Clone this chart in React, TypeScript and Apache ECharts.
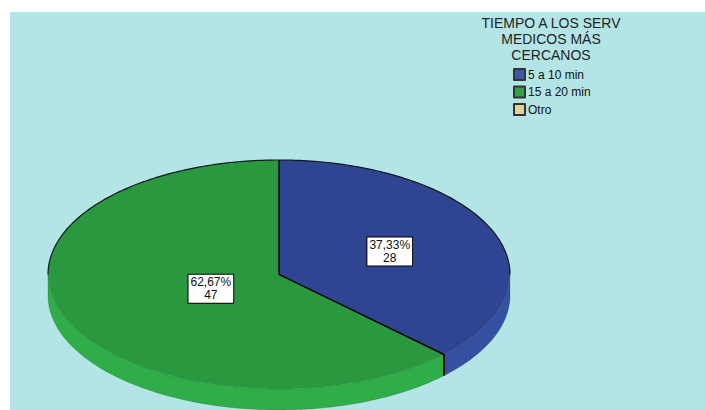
import React, { useEffect, useRef } from "react";
import * as echarts from "echarts";

const categories = ["5 a 10 min", "15 a 20 min", "Otro"];
const counts = [28, 47, 0];
const legendTitle = "TIEMPO A LOS SERV\nMEDICOS MÁS\nCERCANOS";

const topColors = ["#2f4592", "#2a983e", "#d8c890"];
const sideColors = ["#3550a1", "#2fad49", "#e2d29e"];
const legendColors = ["#3d57ad", "#2ea347", "#e2d29e"];
const labelFactors = [0.52, 0.32, 0.5];

const FONT = '"Liberation Sans", Arial, sans-serif';
// geometry (chart coords)
const CX = 269;
const CY = 262.5;
const RX = 231;
const RY = 114.5;
const H = 21;

const total = counts.reduce((a, b) => a + b, 0);
const starts: number[] = [];
{
  let acc = 0;
  counts.forEach((c) => {
    starts.push(acc);
    acc += c;
  });
}
const angOf = (v: number) => (v / total) * Math.PI * 2;

function pt(t: number, dy: number) {
  return [CX + RX * Math.sin(t), CY + dy - RY * Math.cos(t)];
}
function arcPts(a1: number, a2: number, dy: number) {
  const n = Math.max(2, Math.ceil(Math.abs(a2 - a1) / (Math.PI / 180)));
  const pts: number[][] = [];
  for (let i = 0; i <= n; i++) pts.push(pt(a1 + ((a2 - a1) * i) / n, dy));
  return pts;
}
function intersect(a1: number, a2: number, b1: number, b2: number) {
  const s = Math.max(a1, b1);
  const e = Math.min(a2, b2);
  return e > s ? [s, e] : null;
}

export default function App() {
  const ref = useRef<HTMLDivElement>(null);
  useEffect(() => {
    if (!ref.current) return;
    const chart = echarts.init(ref.current, null, { renderer: "svg" });

    const sideRender = (params: any, api: any) => {
      const i = params.dataIndex;
      const v = api.value(0);
      if (!v) return { type: "group", children: [] };
      const a1 = angOf(starts[i]);
      const a2 = a1 + angOf(v);
      const vis = intersect(a1, a2, Math.PI / 2, (3 * Math.PI) / 2);
      if (!vis) return { type: "group", children: [] };
      const pts = arcPts(vis[0], vis[1], 0).concat(arcPts(vis[0], vis[1], H).reverse());
      return {
        type: "polygon",
        shape: { points: pts },
        style: { fill: sideColors[i], stroke: "rgba(0,0,0,0.25)", lineWidth: 0.6 },
      };
    };

    const topRender = (params: any, api: any) => {
      const i = params.dataIndex;
      const v = api.value(0);
      if (!v) return { type: "group", children: [] };
      const a1 = angOf(starts[i]);
      const a2 = a1 + angOf(v);
      const children: any[] = [];
      children.push({
        type: "polygon",
        shape: { points: [[CX, CY]].concat(arcPts(a1, a2, 0)) },
        style: { fill: topColors[i] },
      });
      // back outline
      [[-Math.PI / 2, Math.PI / 2], [(3 * Math.PI) / 2, (5 * Math.PI) / 2]].forEach(([b1, b2]) => {
        const r = intersect(a1, a2, b1, b2);
        if (r) {
          children.push({
            type: "polyline",
            shape: { points: arcPts(r[0], r[1], 0) },
            style: { stroke: "#101820", lineWidth: 1.2, fill: "none" },
          });
        }
      });
      // radius lines and vertical front edges
      [a1, a2].forEach((a) => {
        const p = pt(a, 0);
        children.push({
          type: "line",
          shape: { x1: CX, y1: CY, x2: p[0], y2: p[1] },
          style: { stroke: "#000", lineWidth: 1.3 },
        });
        if (Math.cos(a) < 0) {
          children.push({
            type: "line",
            shape: { x1: p[0], y1: p[1], x2: p[0], y2: p[1] + H },
            style: { stroke: "#000", lineWidth: 1.3 },
          });
        }
      });
      const mid = (a1 + a2) / 2;
      const f = labelFactors[i];
      const pct = ((v / total) * 100).toFixed(2).replace(".", ",") + "%";
      children.push({
        type: "text",
        x: CX + RX * Math.sin(mid) * f,
        y: CY - RY * Math.cos(mid) * f,
        z2: 10,
        style: {
          text: pct + "\n" + v,
          fill: "#111",
          font: "12px " + FONT,
          align: "center",
          verticalAlign: "middle",
          lineHeight: 13,
          backgroundColor: "#fff",
          borderColor: "#000",
          borderWidth: 1,
          padding: [1, 2, 1, 2],
        },
      });
      return { type: "group", children };
    };

    const data = counts.map((c, i) => ({ name: categories[i], value: c }));

    chart.setOption({
      animation: false,
      backgroundColor: "#b4e5e6",
      graphic: [
        {
          type: "text",
          x: 541,
          y: 3,
          style: {
            text: legendTitle,
            font: "14px " + FONT,
            lineHeight: 16,
            align: "center",
            verticalAlign: "top",
            fill: "#222",
          },
        },
      ],
      legend: {
        orient: "vertical",
        left: 503,
        top: 56,
        itemWidth: 11,
        itemHeight: 11,
        itemGap: 4.5,
        icon: "rect",
        padding: 0,
        selectedMode: false,
        textStyle: { fontSize: 12, fontFamily: FONT, color: "#111", padding: [0, 0, 0, -2] },
        data: categories,
      },
      series: [
        {
          type: "pie",
          name: "legend",
          radius: [0, 0],
          center: [-200, -200],
          silent: true,
          label: { show: false },
          labelLine: { show: false },
          data: categories.map((n, i) => ({
            name: n,
            value: 1,
            itemStyle: { color: legendColors[i], borderColor: "#333", borderWidth: 1 },
          })),
        },
        {
          type: "custom",
          name: "sides",
          coordinateSystem: "none",
          z: 2,
          silent: true,
          renderItem: sideRender,
          data,
        },
        {
          type: "custom",
          name: "tops",
          coordinateSystem: "none",
          z: 3,
          silent: true,
          renderItem: topRender,
          data,
        },
      ],
    });
    return () => chart.dispose();
  }, []);

  return (
    <div style={{ position: "absolute", left: 0, top: 0, width: 705, height: 410, background: "#fff" }}>
      <div ref={ref} style={{ position: "absolute", left: 10, top: 12, width: 695, height: 398 }} />
    </div>
  );
}
